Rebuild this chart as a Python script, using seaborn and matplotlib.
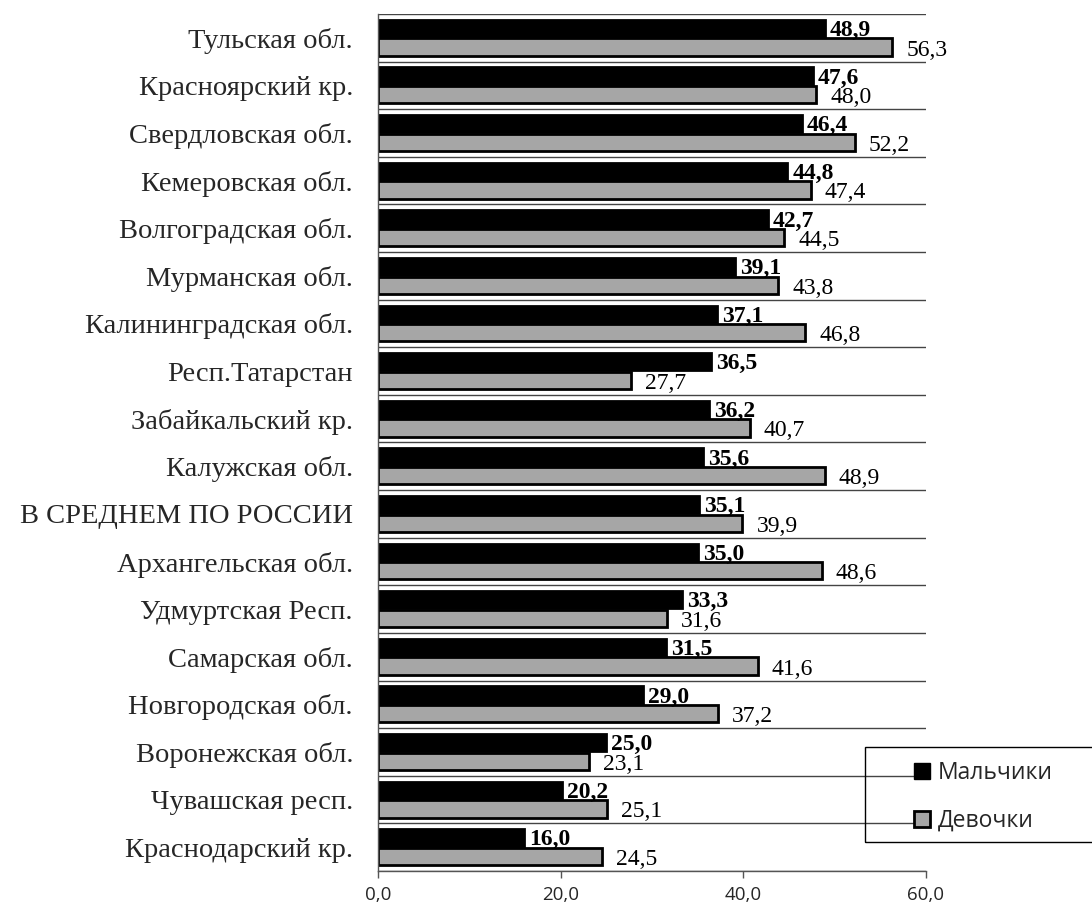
import matplotlib
matplotlib.use("Agg")
import matplotlib.pyplot as plt
import seaborn as sns
import pandas as pd
import numpy as np
from matplotlib.lines import Line2D
from matplotlib.patches import Rectangle

regions = ["Тульская обл.", "Красноярский кр.", "Свердловская обл.", "Кемеровская обл.",
           "Волгоградская обл.", "Мурманская обл.", "Калининградская обл.", "Респ.Татарстан",
           "Забайкальский кр.", "Калужская обл.", "В СРЕДНЕМ ПО РОССИИ", "Архангельская обл.",
           "Удмуртская Респ.", "Самарская обл.", "Новгородская обл.", "Воронежская обл.",
           "Чувашская респ.", "Краснодарский кр."]
boys = [48.9, 47.6, 46.4, 44.8, 42.7, 39.1, 37.1, 36.5, 36.2, 35.6, 35.1, 35.0, 33.3, 31.5, 29.0, 25.0, 20.2, 16.0]
girls = [56.3, 48.0, 52.2, 47.4, 44.5, 43.8, 46.8, 27.7, 40.7, 48.9, 39.9, 48.6, 31.6, 41.6, 37.2, 23.1, 25.1, 24.5]
series = ["Мальчики", "Девочки"]
xticks = [0, 20, 40, 60]
xticklabels = ["0,0", "20,0", "40,0", "60,0"]

df = pd.DataFrame({
    "region": regions * 2,
    "value": boys + girls,
    "sex": [series[0]] * len(regions) + [series[1]] * len(regions),
})

sns.set_style("white")
plt.rcParams["font.family"] = ["Liberation Serif", "DejaVu Serif"]

W, H = 1092, 910
fig = plt.figure(figsize=(W / 100, H / 100), dpi=100)
ax_top, ax_bot, ax_l, ax_r = 14, 871, 378, 926
ax = fig.add_axes([ax_l / W, 1 - ax_bot / H, (ax_r - ax_l) / W, (ax_bot - ax_top) / H])

sns.barplot(data=df, y="region", x="value", hue="sex", orient="h",
            palette=["#000000", "#a6a6a6"], width=0.78, gap=0.07,
            edgecolor="black", linewidth=2.0, ax=ax, legend=False, order=regions,
            hue_order=series)

ax.set_xlim(0, 60)
ax.set_ylim(len(regions) - 0.5, -0.5)
ax.set_xticks(xticks)
ax.set_xticklabels(xticklabels, fontfamily="Open Sans", fontsize=13.5)
ax.set_xlabel("")
ax.set_ylabel("")
ax.set_yticks(range(len(regions)))
ax.set_yticklabels(regions, fontsize=20.5)
ax.tick_params(axis="y", which="major", length=0, pad=18)
ax.set_yticks(np.arange(-0.5, len(regions), 1.0), minor=True)
ax.tick_params(axis="y", which="minor", length=5, direction="out", color="#555555", width=1)
ax.tick_params(axis="x", which="major", length=5, direction="out", color="#555555", width=1, pad=6, bottom=True)
ax.grid(False)
ax.grid(True, which="minor", axis="y", color="#444444", linewidth=1)
ax.set_axisbelow(True)
for s in ["top", "right"]:
    ax.spines[s].set_visible(False)
for s in ["left", "bottom"]:
    ax.spines[s].set_color("#555555")
    ax.spines[s].set_linewidth(1)

# value labels
for c_i, cont in enumerate(ax.containers):
    for bar, v in zip(cont, boys if c_i == 0 else girls):
        y = bar.get_y() + bar.get_height() / 2
        txt = f"{v:.1f}".replace(".", ",")
        if c_i == 0:
            ax.annotate(txt, (v, y), xytext=(5, -2), textcoords="offset pixels",
                        ha="left", va="center", fontsize=17, fontweight="bold", color="black")
        else:
            ax.annotate(txt, (v, y), xytext=(14, -3), textcoords="offset pixels",
                        ha="left", va="center", fontsize=17, color="black")

# legend
fig.patches.append(Rectangle((865 / W, 1 - 842 / H), 0.3, (842 - 747) / H,
                             transform=fig.transFigure, fill=False, edgecolor="black",
                             linewidth=1, zorder=5))
handles = [Line2D([], [], marker="s", linestyle="", markersize=12, markerfacecolor="#000000",
                  markeredgecolor="black"),
           Line2D([], [], marker="s", linestyle="", markersize=12, markerfacecolor="#a6a6a6",
                  markeredgecolor="black", markeredgewidth=2)]
fig.legend(handles, series, loc="upper left", bbox_to_anchor=(913 / W, 1 - 761 / H),
           frameon=False, prop={"family": "Open Sans", "size": 16.5}, handletextpad=0.3,
           labelspacing=1.05, handlelength=0.8, borderpad=0, borderaxespad=0)

fig.savefig("out.png", dpi=100)
